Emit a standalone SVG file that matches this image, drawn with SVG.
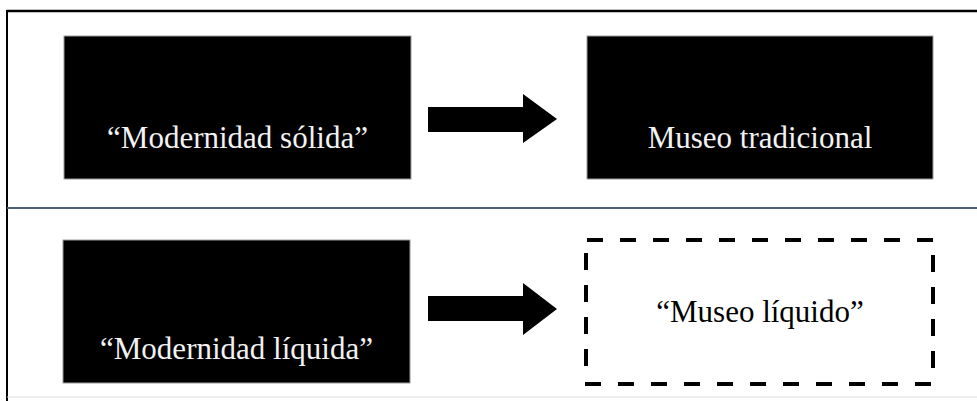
<svg xmlns="http://www.w3.org/2000/svg" width="977" height="401" viewBox="0 0 977 401">
  <style>
    .solid { fill: #000; stroke: #9a9a9a; stroke-width: 1; }
    .label { font-family: "Liberation Serif", "Times New Roman", serif; font-size: 31px; text-anchor: middle; }
    .light { fill: #f2f2f2; }
    .dark { fill: #000; }
    .dash { stroke: #000; stroke-width: 4; fill: none; }
    .arrow { fill: #000; }
  </style>

  <rect width="977" height="401" fill="#fff"/>

  <!-- frame and row divider -->
  <g id="frame">
    <line x1="7" y1="11" x2="977" y2="11" stroke="#000" stroke-width="2.5"/>
    <line x1="7" y1="10" x2="7" y2="401" stroke="#000" stroke-width="2"/>
    <line x1="7" y1="208" x2="977" y2="208" stroke="#4f5f72" stroke-width="2"/>
    <line x1="7" y1="397" x2="977" y2="397" stroke="#dcdcdc" stroke-width="1"/>
  </g>

  <g id="modernidad-solida">
    <rect class="solid" x="64" y="36" width="347" height="143"/>
    <text class="label light" x="237.5" y="148">“Modernidad sólida”</text>
  </g>

  <g id="museo-tradicional">
    <rect class="solid" x="587" y="36" width="346" height="143"/>
    <text class="label light" x="760" y="148">Museo tradicional</text>
  </g>

  <g id="modernidad-liquida">
    <rect class="solid" x="63" y="240" width="347" height="143"/>
    <text class="label light" x="236.5" y="359">“Modernidad líquida”</text>
  </g>

  <g id="museo-liquido">
    <line class="dash" x1="587" y1="240" x2="935" y2="240" stroke-dasharray="16 17"/>
    <line class="dash" x1="585" y1="384" x2="935" y2="384" stroke-dasharray="16 17"/>
    <line class="dash" x1="586" y1="253" x2="586" y2="370" stroke-dasharray="17 15"/>
    <line class="dash" x1="933" y1="255" x2="933" y2="372" stroke-dasharray="17 15"/>
    <text class="label dark" x="760" y="322">“Museo líquido”</text>
  </g>

  <!-- block arrows between the columns -->
  <g id="connectors">
    <polygon class="arrow" points="428,107 523,107 523,94 557,119 523,143 523,132 428,132"/>
    <polygon class="arrow" points="428,296 523,296 523,283 557,309 523,335 523,321 428,321"/>
  </g>
</svg>
